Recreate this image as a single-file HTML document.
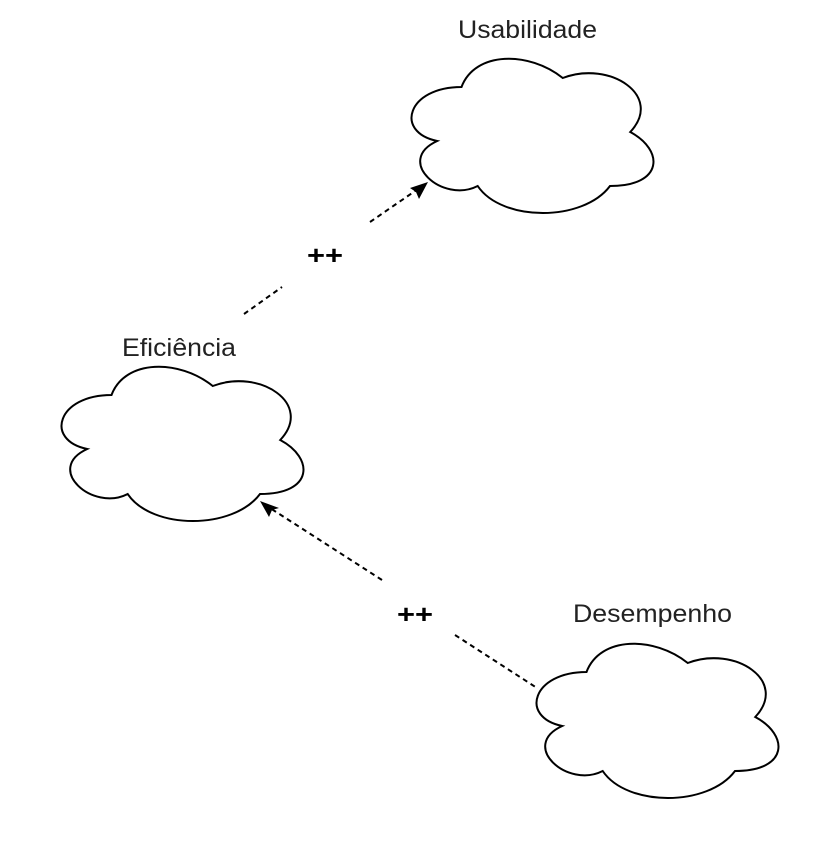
<!DOCTYPE html>
<html><head><style>body{margin:0;background:#fff}svg{display:block}</style></head><body>
<svg width="832" height="843" viewBox="0 0 832 843" xmlns="http://www.w3.org/2000/svg">
<defs>
<path id="c" d="M67.5,45 C13.5,45 0,90 43.2,99 C0,118.8 48.6,162 83.7,144 C108,180 189,180 216,144 C270,144 270,108 236.25,90 C270,54 216,18 168.75,36 C135,9 81,9 67.5,45 Z" fill="#fff" stroke="#000" stroke-width="2"/>
</defs>
<use href="#c" x="394" y="42"/>
<use href="#c" x="44" y="350"/>
<use href="#c" x="519" y="627"/>
<g stroke="#000" stroke-width="2" stroke-dasharray="5 4" fill="none">
<line x1="244" y1="314" x2="282" y2="287"/>
<line x1="370" y1="222" x2="418" y2="189"/>
<line x1="382" y1="580" x2="270" y2="508"/>
<line x1="455" y1="635" x2="537" y2="688"/>
</g>
<polygon points="428,182 410,188 416,192 419,199" fill="#000"/>
<polygon points="260,501 269,517 272,510 279,508" fill="#000"/>
<g font-family="Liberation Sans, sans-serif" font-size="25" fill="#222">
<text x="458" y="38" textLength="139" lengthAdjust="spacingAndGlyphs">Usabilidade</text>
<text x="122" y="356" textLength="114" lengthAdjust="spacingAndGlyphs">Eficiência</text>
<text x="573" y="622" textLength="159" lengthAdjust="spacingAndGlyphs">Desempenho</text>
<text x="307" y="264" font-size="26" font-weight="bold" fill="#000" textLength="36" lengthAdjust="spacingAndGlyphs">++</text>
<text x="397" y="623" font-size="26" font-weight="bold" fill="#000" textLength="36" lengthAdjust="spacingAndGlyphs">++</text>
</g>
</svg>
</body></html>
